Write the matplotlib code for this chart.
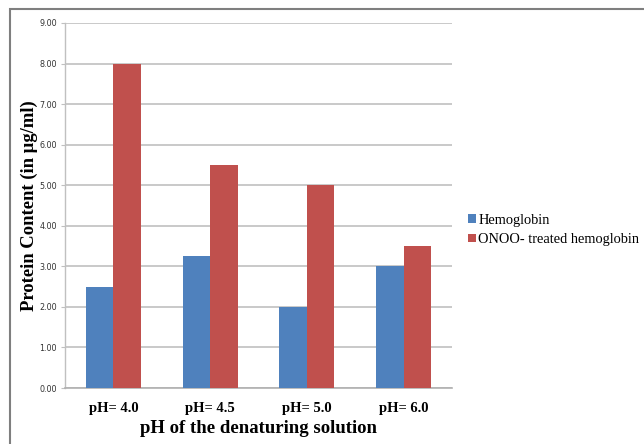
import numpy as np
import matplotlib.pyplot as plt
from matplotlib.patches import Rectangle

# data
categories = ["pH= 4.0", "pH= 4.5", "pH= 5.0", "pH= 6.0"]
hemoglobin = [2.5, 3.25, 2.0, 3.0]
onoo_treated = [8.0, 5.5, 5.0, 3.5]
yticks = [0, 1, 2, 3, 4, 5, 6, 7, 8, 9]

blue = "#4F81BD"
red = "#C0504D"
serif = "Liberation Serif"

fig = plt.figure(figsize=(6.44, 4.44), dpi=100)
ax = fig.add_axes([65/644, 1-388/444, (452-65)/644, (388-23)/444])

x = np.arange(len(categories))
w = 0.285
ax.bar(x - w/2, hemoglobin, w, color=blue, label="Hemoglobin", zorder=3)
ax.bar(x + w/2, onoo_treated, w, color=red, label="ONOO- treated hemoglobin", zorder=3)

ax.set_xlim(-0.5, len(categories) - 0.5)
ax.set_ylim(0, 9)
ax.set_yticks(yticks)
ax.set_yticklabels(["%.2f" % v for v in yticks], fontsize=5.8, color="#333333")
ax.yaxis.grid(True, color="#c0c0c0", linewidth=1.2, zorder=0)
ax.tick_params(axis="y", length=3, color="#c0c0c0", pad=3)

ax.set_xticks(x)
ax.set_xticklabels(categories, fontfamily=serif, fontweight="bold", fontsize=10.5)
ax.tick_params(axis="x", length=0, pad=10)

for s in ["top", "right"]:
    ax.spines[s].set_visible(False)
ax.spines["left"].set_color("#c0c0c0")
ax.spines["bottom"].set_color("#b0b0b0")
ax.spines["left"].set_linewidth(1.0)
ax.spines["bottom"].set_linewidth(1.2)

ax.set_ylabel("Protein Content (in µg/ml)", fontfamily=serif, fontweight="bold",
              fontsize=13.4, labelpad=1)
ax.set_xlabel("pH of the denaturing solution", fontfamily=serif, fontweight="bold",
              fontsize=13.5, labelpad=4)

ax.legend(loc="center left", bbox_to_anchor=(461/644, 1-230/444),
          bbox_transform=fig.transFigure, frameon=False, borderpad=0,
          handlelength=0.55, handleheight=0.55, handletextpad=0.15,
          labelspacing=0.45, prop={"family": serif, "size": 10.4})

# outer frame, cut off at right and bottom
fig.patches.append(Rectangle((10/644, -0.1), 1.2, 1-9/444 + 0.1,
                             transform=fig.transFigure, fill=False,
                             edgecolor="#7f7f7f", linewidth=1.5))

fig.savefig("out.png", dpi=100)
